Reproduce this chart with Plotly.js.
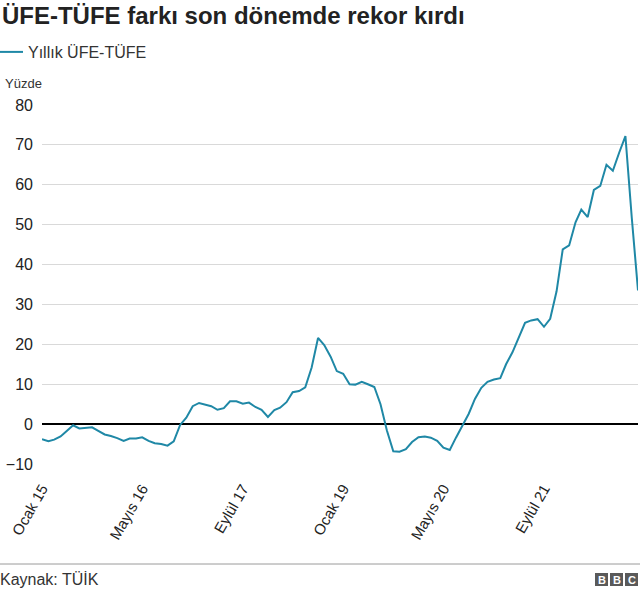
<!DOCTYPE html>
<html><head><meta charset="utf-8">
<script src="https://cdn.plot.ly/plotly-3.0.1.min.js"></script>
<style>html,body{margin:0;padding:0;background:#fff}#chart{width:640px;height:592px}</style>
</head><body><div id="chart"></div>
<script>
// Yıllık ÜFE-TÜFE farkı (yüzde puan), aylık
const y2015 = [-3.8, -4.3, -3.9, -3.1, -1.7, -0.3, -1.1, -0.9, -0.8, -1.7, -2.6, -3.0];
const y2016 = [-3.5, -4.2, -3.6, -3.6, -3.3, -4.2, -4.8, -5.0, -5.4, -4.3, -0.2, 1.6];
const y2017 = [4.5, 5.3, 4.9, 4.5, 3.6, 4.0, 5.7, 5.7, 5.1, 5.4, 4.3, 3.6];
const y2018 = [1.8, 3.5, 4.1, 5.5, 8.0, 8.3, 9.2, 14.2, 21.6, 19.8, 16.9, 13.3];
const y2019 = [12.6, 10.0, 9.9, 10.6, 10.0, 9.3, 5.0, -1.6, -6.8, -6.9, -6.3, -4.5];
const y2020 = [-3.3, -3.1, -3.4, -4.2, -5.9, -6.5, -3.4, -0.2, 2.6, 6.3, 9.1, 10.6];
const y2021 = [11.2, 11.5, 15.0, 18.0, 21.7, 25.4, 26.0, 26.3, 24.4, 26.4, 33.3, 43.8];
const y2022 = [44.8, 50.6, 53.8, 51.9, 58.7, 59.7, 65.0, 63.5, 68.1, 72.2, 51.6, 33.5];

const startYear = 2015;
const tickDates = ["2015-01-01", "2016-05-01", "2017-09-01", "2019-01-01", "2020-05-01", "2021-09-01"];
const tickLabels = ["Ocak 15", "Mayıs 16", "Eylül 17", "Ocak 19", "Mayıs 20", "Eylül 21"];
const yTicks = [-10, 0, 10, 20, 30, 40, 50, 60, 70, 80];
const seriesName = "Yıllık ÜFE-TÜFE";
const titleText = "ÜFE-TÜFE farkı son dönemde rekor kırdı";
const unitText = "Yüzde";
const sourceText = "Kaynak: TÜİK";

const values = [].concat(y2015, y2016, y2017, y2018, y2019, y2020, y2021, y2022);
const dates = values.map((_, i) => {
  const yr = startYear + Math.floor(i / 12), m = i % 12 + 1;
  return yr + "-" + String(m).padStart(2, "0") + "-01";
});

const W = 640, H = 592, L = 42, R = 2, T = 105, B = 128;
const pw = W - L - R, ph = H - T - B;
const px = x => (x - L) / pw;
const py = y => (H - B - y) / ph;
const FONT = "Liberation Sans, Arial, Helvetica, sans-serif";

const trace = {
  x: dates, y: values, type: "scatter", mode: "lines", name: seriesName,
  line: {color: "#1f88a6", width: 2}, hoverinfo: "x+y"
};

const shapes = [
  {type: "line", xref: "paper", yref: "paper", x0: px(0), x1: px(640), y0: py(564), y1: py(564),
   line: {color: "#9a9a9a", width: 1}},
];
const logoX = [595, 610, 625];
const logoLetters = ["B", "B", "C"];
const annotations = [
  {text: unitText, xref: "paper", yref: "paper", x: px(3), y: py(83), xanchor: "left", yanchor: "middle",
   showarrow: false, font: {family: FONT, size: 13, color: "#333"}},
  {text: sourceText, xref: "paper", yref: "paper", x: px(-2), y: py(579), xanchor: "left", yanchor: "middle",
   showarrow: false, font: {family: FONT, size: 16, color: "#333"}},
];
logoX.forEach((lx, i) => {
  shapes.push({type: "rect", xref: "paper", yref: "paper", x0: px(lx), x1: px(lx + 13), y0: py(586), y1: py(573),
    fillcolor: "#5a5a5a", line: {width: 0}});
  annotations.push({text: "<b>" + logoLetters[i] + "</b>", xref: "paper", yref: "paper", x: px(lx + 6.5), y: py(579.5),
    xanchor: "center", yanchor: "middle", showarrow: false, font: {family: FONT, size: 11, color: "#fff"}});
});

const layout = {
  width: W, height: H,
  margin: {l: L, r: R, t: T, b: B, pad: 0, autoexpand: false},
  paper_bgcolor: "#fff", plot_bgcolor: "#fff",
  font: {family: FONT, color: "#222"},
  title: {text: "<b>" + titleText + "</b>", x: 0.003, xref: "container", xanchor: "left",
          y: 0.988, yref: "container", yanchor: "top", font: {family: FONT, size: 24, color: "#222"}},
  showlegend: true,
  legend: {x: px(-12), y: py(52), xanchor: "left", yanchor: "middle",
           bgcolor: "rgba(0,0,0,0)", font: {family: FONT, size: 16, color: "#333"}},
  xaxis: {type: "date", range: [dates[0], dates[dates.length - 1]], tickmode: "array",
          tickvals: tickDates, ticktext: tickLabels, tickangle: -60, showgrid: false, zeroline: false,
          showline: false, ticks: "", automargin: false, ticklabelstandoff: 12,
          tickfont: {family: FONT, size: 15, color: "#222"}, fixedrange: true},
  yaxis: {range: [-10, 80], tickmode: "array", tickvals: yTicks, showgrid: true, gridcolor: "#d9d9d9",
          gridwidth: 1, zeroline: true, zerolinecolor: "#000", zerolinewidth: 2, showline: false, ticks: "",
          automargin: false, ticklabelstandoff: 8, tickfont: {family: FONT, size: 16, color: "#222"}, fixedrange: true},
  shapes: shapes, annotations: annotations
};

Plotly.newPlot("chart", [trace], layout, {displayModeBar: false, staticPlot: true});
</script>
</body></html>
